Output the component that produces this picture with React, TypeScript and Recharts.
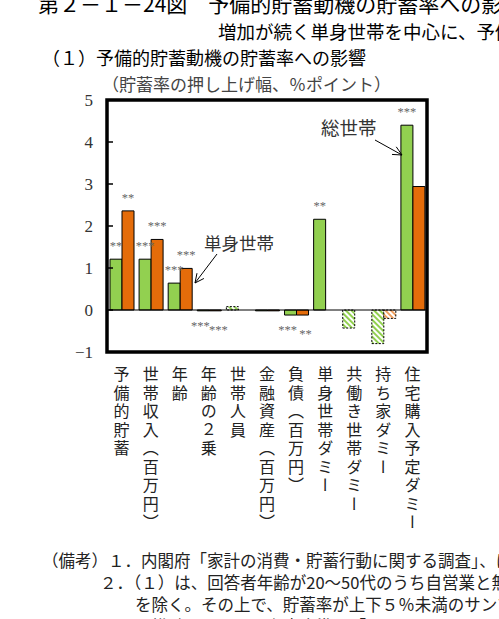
import React from 'react';
import { BarChart, Bar, XAxis, YAxis, ReferenceLine, ReferenceArea, LabelList, Cell } from 'recharts';

const categories = [
  '予備的貯蓄',
  '世帯収入（百万円）',
  '年齢',
  '年齢の２乗',
  '世帯人員',
  '金融資産（百万円）',
  '負債（百万円）',
  '単身世帯ダミー',
  '共働き世帯ダミー',
  '持ち家ダミー',
  '住宅購入予定ダミー',
];
// 総世帯 (green)
const totalValues = [1.21, 1.21, 0.64, -0.02, 0.08, -0.02, -0.12, 2.16, -0.43, -0.8, 4.4];
// 単身世帯 (orange)
const singleValues: (number | null)[] = [2.36, 1.68, 0.99, -0.02, 0, -0.02, -0.12, null, null, -0.2, 2.94];
const totalStars = ['**', '***', '***', '***', '', '', '***', '**', '', '', '***'];
const singleStars = ['**', '***', '***', '***', '', '', '**', '', '', '', '**'];
const totalSignificant = [true, true, true, true, false, true, true, true, false, false, true];
const singleSignificant = [true, true, true, true, false, true, true, true, false, false, true];
const yTicks = [-1, 0, 1, 2, 3, 4, 5];
const yTickLabels = ['−1', '0', '1', '2', '3', '4', '5'];

const GREEN = '#92D050';
const ORANGE = '#E46C0A';
const JP = '"Noto Sans CJK JP", "Noto Sans", sans-serif';
const SERIF = '"Liberation Serif", "DejaVu Serif", serif';

const data = categories.map((c, i) => ({
  name: c,
  total: totalValues[i],
  single: singleValues[i],
  totalStar: totalStars[i],
  singleStar: singleStars[i],
}));

const YTick = (props: any) => {
  const { x, y, payload } = props;
  const idx = yTicks.indexOf(payload.value);
  return (
    <g>
      <text x={x} y={y} dy="0.35em" textAnchor="end" fontSize={17} fontFamily={SERIF} fill="#333">
        {yTickLabels[idx]}
      </text>
      <line x1={x + 14} x2={x + 20} y1={y} y2={y} stroke="#000" strokeWidth={1.5} />
    </g>
  );
};

const XTick = (props: any) => {
  const { x, y, payload } = props;
  return (
    <text
      x={x}
      y={y}
      style={{ writingMode: 'vertical-rl' as any }}
      fontSize={16}
      letterSpacing={2.5}
      fill="#222"
      fontFamily={JP}
    >
      {payload.value}
    </text>
  );
};

const makeStarLabel = (values: (number | null)[], below: number, shift: number) => (props: any) => {
  const { x, y, width, height, value, index } = props;
  if (!value) return null;
  const v = values[index];
  if (v == null) return null;
  const top = Math.min(y, y + height);
  const bottom = Math.max(y, y + height);
  const cx = x + width / 2 + (v < 0 ? shift : 0);
  const centerY = v >= 0 ? top - 16 : bottom + below;
  return (
    <text x={cx} y={centerY + 7} textAnchor="middle" fontSize={12.5} fontFamily={SERIF} fill="#666">
      {value}
    </text>
  );
};

const arrowHead = (x1: number, y1: number, x2: number, y2: number, size: number) => {
  const ang = Math.atan2(y2 - y1, x2 - x1);
  const a1 = ang + Math.PI - 0.45;
  const a2 = ang + Math.PI + 0.45;
  return `M${x2 + size * Math.cos(a1)},${y2 + size * Math.sin(a1)} L${x2},${y2} L${x2 + size * Math.cos(a2)},${y2 + size * Math.sin(a2)}`;
};

export default function App() {
  return (
    <div style={{ position: 'absolute', left: 0, top: 0, width: 499, height: 619, overflow: 'hidden', background: '#fff' }}>
      <svg width={499} height={619} style={{ position: 'absolute', left: 0, top: 0 }}>
        <defs>
          <pattern id="hatchGreen" patternUnits="userSpaceOnUse" width={4} height={4} patternTransform="rotate(-45)">
            <rect width={4} height={4} fill="#fff" />
            <rect width={2} height={4} fill={GREEN} />
          </pattern>
          <pattern id="hatchOrange" patternUnits="userSpaceOnUse" width={4} height={4} patternTransform="rotate(-45)">
            <rect width={4} height={4} fill="#fff" />
            <rect width={2} height={4} fill="#F0A060" />
          </pattern>
        </defs>
        <text x={38} y={12} fontSize={21} fontFamily={JP} fill="#000">第２－１－24図　予備的貯蓄動機の貯蓄率への影響</text>
        <text x={218} y={39} fontSize={18.5} fontFamily={JP} fill="#000">増加が続く単身世帯を中心に、予備的貯蓄動機が貯蓄率を押し上げ</text>
        <text x={42} y={65} fontSize={18} fontFamily={JP} fill="#000">（１）予備的貯蓄動機の貯蓄率への影響</text>
        <text x={102} y={91} fontSize={17} fontFamily={JP} fill="#444">（貯蓄率の押し上げ幅、％ポイント）</text>
        <text x={42} y={567} fontSize={16.5} fontFamily={JP} fill="#222">（備考）１．内閣府「家計の消費・貯蓄行動に関する調査」、により作成。</text>
        <text x={100} y={589} fontSize={16.5} fontFamily={JP} fill="#222">２．（１）は、回答者年齢が20～50代のうち自営業と無職</text>
        <text x={135} y={611} fontSize={16.5} fontFamily={JP} fill="#222">を除く。その上で、貯蓄率が上下５％未満のサンプル</text>
        <text x={135} y={633} fontSize={16.5} fontFamily={JP} fill="#222">を推計に用いた。有意水準は「</text>
      </svg>
      <div style={{ position: 'absolute', left: 0, top: 0 }}>
        <BarChart
          width={499}
          height={619}
          data={data}
          margin={{ top: 100, right: 72, bottom: 97, left: 67 }}
          barCategoryGap={3}
          barGap={0}
        >
          <XAxis
            dataKey="name"
            interval={0}
            axisLine={false}
            tickLine={false}
            tickSize={0}
            tickMargin={14}
            height={170}
            tick={<XTick />}
          />
          <YAxis
            domain={[-1, 5]}
            ticks={yTicks}
            width={40}
            axisLine={false}
            tickLine={false}
            tickSize={0}
            tickMargin={14}
            tick={<YTick />}
            allowDataOverflow
          />
          <ReferenceLine y={0} stroke="#000" strokeWidth={1} />
          <Bar dataKey="total" isAnimationActive={false} stroke="#000" strokeWidth={1}>
            {data.map((d, i) => (
              <Cell
                key={`t${i}`}
                fill={totalSignificant[i] ? GREEN : 'url(#hatchGreen)'}
                strokeDasharray={totalSignificant[i] ? undefined : '2 1.5'}
              />
            ))}
            <LabelList dataKey="totalStar" content={makeStarLabel(totalValues, 12, -3)} />
          </Bar>
          <Bar dataKey="single" isAnimationActive={false} stroke="#000" strokeWidth={1}>
            {data.map((d, i) => (
              <Cell
                key={`s${i}`}
                fill={singleSignificant[i] ? ORANGE : 'url(#hatchOrange)'}
                strokeDasharray={singleSignificant[i] ? undefined : '2 1.5'}
              />
            ))}
            <LabelList dataKey="singleStar" content={makeStarLabel(singleValues, 16, 3)} />
          </Bar>
          <ReferenceArea y1={-1} y2={5} fill="none" stroke="#000" strokeWidth={3.5} ifOverflow="visible" />
        </BarChart>
      </div>
      <svg width={499} height={619} style={{ position: 'absolute', left: 0, top: 0, pointerEvents: 'none' }}>
        <text x={204} y={250} fontSize={17.5} fontFamily={JP} fill="#333">単身世帯</text>
        <line x1={217} y1={254} x2={195} y2={283} stroke="#000" strokeWidth={1} />
        <path d={arrowHead(217, 254, 195, 283, 10)} fill="none" stroke="#000" strokeWidth={1} />
        <text x={321} y={135} fontSize={18.5} fontFamily={JP} fill="#333">総世帯</text>
        <line x1={375} y1={140} x2={402} y2={155} stroke="#000" strokeWidth={1} />
        <path d={arrowHead(375, 140, 402, 155, 10)} fill="none" stroke="#000" strokeWidth={1} />
      </svg>
    </div>
  );
}
